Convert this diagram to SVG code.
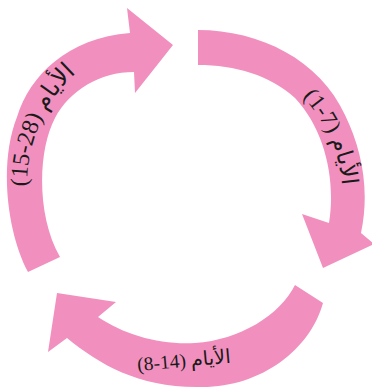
<svg xmlns="http://www.w3.org/2000/svg" width="372" height="388" viewBox="0 0 372 388">
<style>
.arrow{fill:#F190BE;}
.lbl{font-family:'Liberation Serif','DejaVu Sans',serif;fill:#1a1a1a;}
</style>
<defs>
<path id="pR" d="M237.3,54.5 A153,153 0 0 1 329.8,262.2"/>
<path id="pL" d="M58.1,275.8 A151,151 0 0 1 162.3,34"/>
</defs>
<rect width="372" height="388" fill="#ffffff"/>
<g id="connectors">
<path id="arrow-days-1-7" class="arrow" d="M198,30 C260,30 320,60 345,115 C362,150 370,190 361,233 L374,244 L323,268 L302,214 L329,223 C336,180 325,130 295,98 C270,75 235,65 198,65 Z"/>
<path id="arrow-days-8-14" class="arrow" d="M295,285 L323,303 C310,350 260,388 200,387 C140,388 100,365 67,338 L48,352 L57,293 L116,302 L98,317 C125,335 160,345 195,343 C240,340 280,315 295,285 Z"/>
<path id="arrow-days-15-28" class="arrow" d="M28,272 C8,235 -2,165 17,117 C30,75 68,38 130,33 L127,8 L173,45 L135,93 L134,72 C100,72 70,90 55,118 C38,150 36,215 60,257 Z"/>
</g>
<g id="label-1-7">
<text class="lbl" font-size="23"><textPath href="#pR" startOffset="50%" text-anchor="middle">(1-7) الأيام</textPath></text>
</g>
<g id="label-8-14">
<text class="lbl" x="184" y="367" font-size="19.5" text-anchor="middle" transform="rotate(-5 184 362)">(8-14) الأيام</text>
</g>
<g id="label-15-28">
<text class="lbl" font-size="24"><textPath href="#pL" startOffset="50%" text-anchor="middle">(15-28) الأيام</textPath></text>
</g>
</svg>
